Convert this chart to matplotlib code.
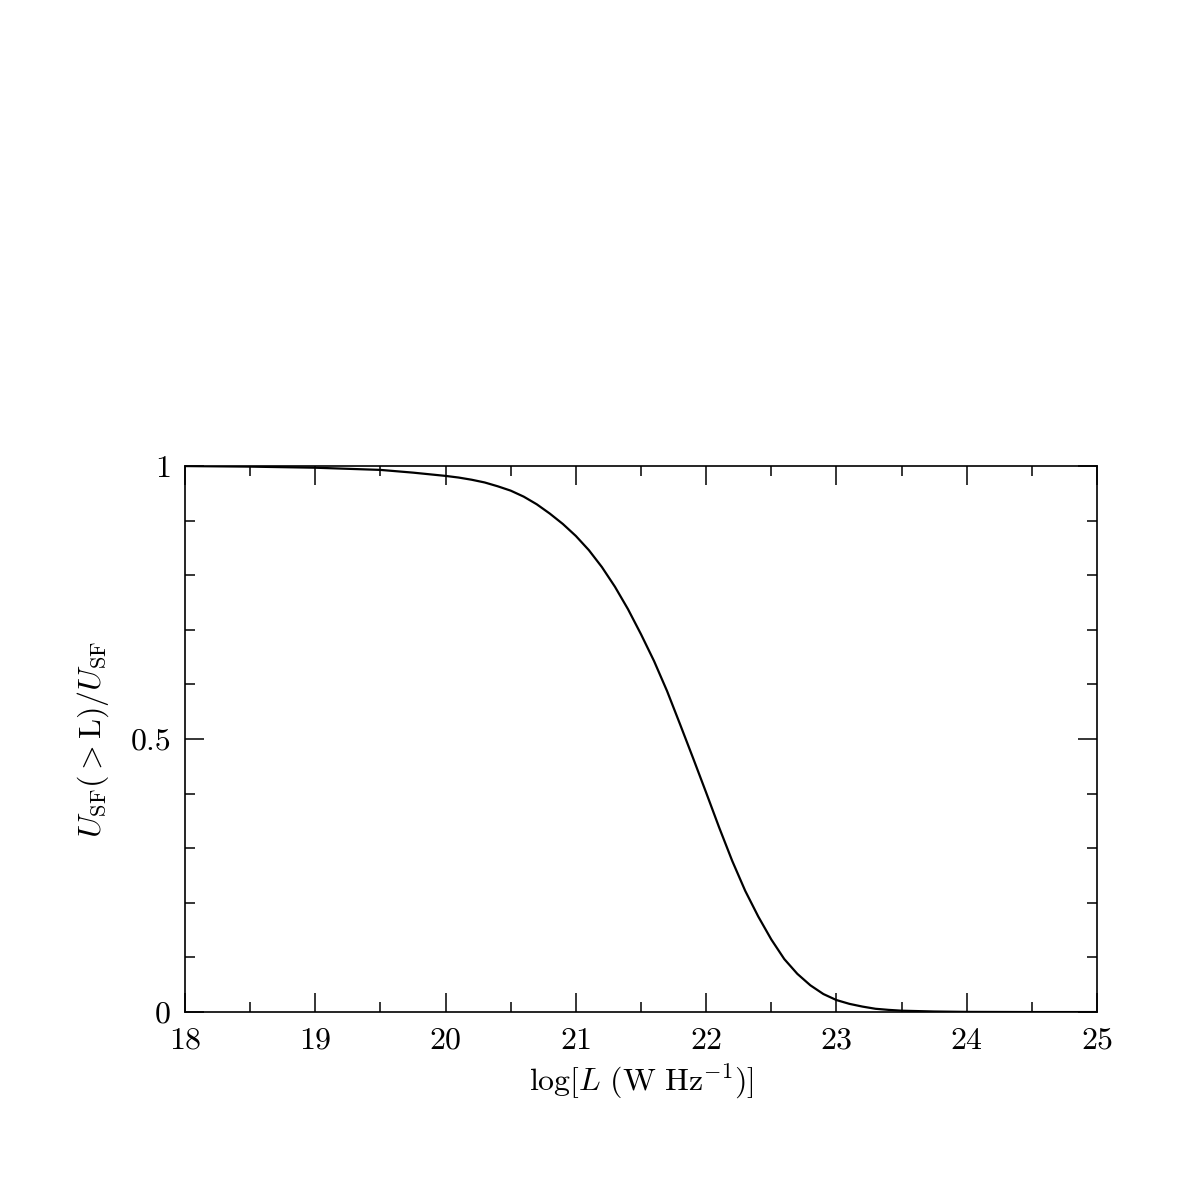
import numpy as np
from matplotlib import pyplot as plt

# valori
logL = [18.0, 18.5, 19.0, 19.5, 19.75, 20.0, 20.1, 20.2, 20.3, 20.4,
        20.5, 20.6, 20.7, 20.8, 20.9, 21.0, 21.1, 21.2, 21.3, 21.4,
        21.5, 21.6, 21.7, 21.8, 21.9, 22.0, 22.1, 22.2, 22.3, 22.4,
        22.5, 22.6, 22.7, 22.8, 22.9, 23.0, 23.1, 23.2, 23.3, 23.4,
        23.5, 23.75, 24.0, 24.5, 25.0]
frazione = [1.0, 0.999, 0.997, 0.993, 0.988, 0.982, 0.979, 0.975, 0.970, 0.963,
            0.955, 0.944, 0.930, 0.913, 0.894, 0.872, 0.846, 0.815, 0.779, 0.738,
            0.692, 0.643, 0.588, 0.527, 0.465, 0.402, 0.338, 0.277, 0.222, 0.175,
            0.133, 0.097, 0.070, 0.049, 0.033, 0.022, 0.015, 0.010, 0.006, 0.004,
            0.0025, 0.001, 0.0003, 0.0, 0.0]

plt.rcParams['font.family'] = 'serif'
plt.rcParams['font.serif'] = ['cmr10']
plt.rcParams['mathtext.fontset'] = 'cm'
plt.rcParams['axes.formatter.use_mathtext'] = True

fig = plt.figure(figsize=(11.96, 11.96), dpi=100)
ax = fig.add_axes([0.1547, 0.1538, 0.7625, 0.4565])

ax.plot(logL, frazione, color='black', lw=1.6)

ax.set_xlim(18, 25)
ax.set_ylim(0, 1)
ax.set_xticks(np.arange(18, 26, 1))
ax.set_xticks(np.arange(18, 25.01, 0.5), minor=True)
ax.set_yticks([0, 0.5, 1])
ax.set_yticklabels(['0', '0.5', '1'])
ax.set_yticks(np.arange(0, 1.01, 0.1), minor=True)

ax.tick_params(which='both', direction='in', top=True, right=True, width=1.1, labelsize=23)
ax.tick_params(which='major', length=14)
ax.tick_params(which='minor', length=7)
ax.tick_params(axis='x', pad=11)
ax.tick_params(axis='y', pad=10)
for s in ax.spines.values():
    s.set_linewidth(1.2)

ax.set_xlabel(r'$\log[L\ ({\rm W\ Hz^{-1}})]$', fontsize=23, labelpad=5)
ax.set_ylabel(r'$U_{\rm SF}(>{\rm L})/U_{\rm SF}$', fontsize=23, labelpad=14)

plt.savefig('out.png', dpi=100)
